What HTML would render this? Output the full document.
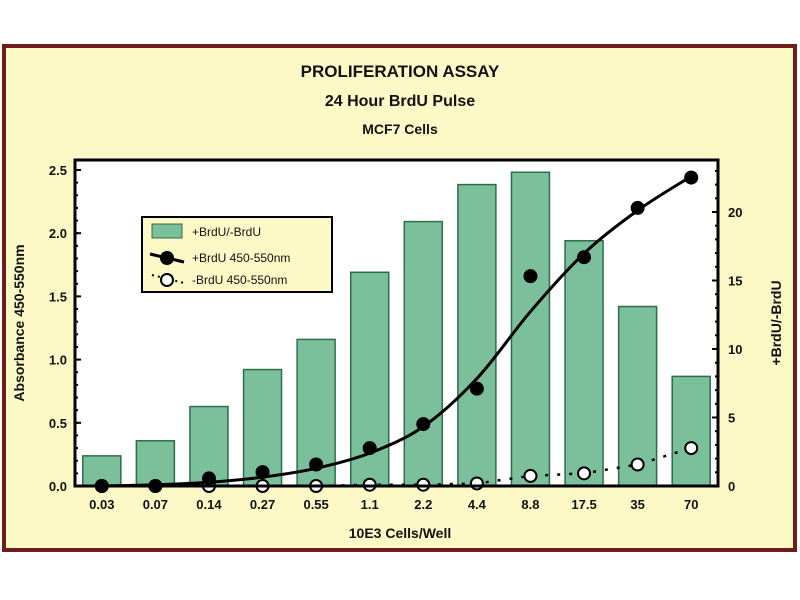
<!DOCTYPE html>
<html><head><meta charset="utf-8"><style>
html,body{margin:0;padding:0;background:#fff;}
svg{display:block;font-family:"Liberation Sans",Arial,sans-serif;font-weight:bold;}
</style></head><body>
<svg width="800" height="600" viewBox="0 0 800 600">
<rect x="4" y="46" width="791" height="504" fill="#fdf9c6" stroke="#6e1c1c" stroke-width="4"/>
<text x="400" y="77" text-anchor="middle" font-size="17" fill="#111">PROLIFERATION ASSAY</text>
<text x="400" y="106" text-anchor="middle" font-size="16" fill="#111">24 Hour BrdU Pulse</text>
<text x="400" y="134" text-anchor="middle" font-size="14" fill="#111">MCF7 Cells</text>
<rect x="75" y="160" width="643" height="326" fill="#fff"/>
<g id="bars"></g><g id="lines"></g><g id="axes"></g>
<rect x="75" y="160" width="643" height="326" fill="none" stroke="#000" stroke-width="3"/>
<text transform="translate(24,323) rotate(-90)" text-anchor="middle" font-size="14" fill="#111">Absorbance 450-550nm</text>
<text transform="translate(781,323) rotate(-90)" text-anchor="middle" font-size="14" fill="#111">+BrdU/-BrdU</text>
<text x="400" y="538" text-anchor="middle" font-size="14" fill="#111">10E3 Cells/Well</text>
<g>
<rect x="142" y="217" width="190" height="75" fill="#fdf9c6" stroke="#000" stroke-width="2"/>
<rect x="152" y="224" width="30" height="14" fill="#7cbf9b" stroke="#2d6e4a"/>
<text x="192" y="236" font-size="12" font-weight="normal" fill="#111">+BrdU/-BrdU</text>
<line x1="150" y1="254" x2="184" y2="262" stroke="#000" stroke-width="3"/>
<circle cx="167" cy="258" r="7" fill="#000"/>
<text x="192" y="262" font-size="12" font-weight="normal" fill="#111">+BrdU 450-550nm</text>
<line x1="152" y1="275" x2="184" y2="283" stroke="#000" stroke-width="2" stroke-dasharray="2 4"/>
<circle cx="167" cy="280" r="6" fill="#fff" stroke="#000" stroke-width="2"/>
<text x="192" y="284" font-size="12" font-weight="normal" fill="#111">-BrdU 450-550nm</text>
</g>
</svg>
<script>
const categories=["0.03","0.07","0.14","0.27","0.55","1.1","2.2","4.4","8.8","17.5","35","70"];
const ratioValues=[2.2,3.3,5.8,8.5,10.7,15.6,19.3,22,22.9,17.9,13.1,8.0];
const plusBrdU=[0.0,0.0,0.06,0.11,0.17,0.3,0.49,0.77,1.66,1.81,2.2,2.44];
const plusFit=[0.0,0.01,0.03,0.07,0.14,0.26,0.47,0.85,1.38,1.84,2.18,2.45];
const minusBrdU=[0.0,0.0,0.0,0.0,0.0,0.01,0.01,0.02,0.08,0.1,0.17,0.3];
const leftTicks=[0,0.5,1.0,1.5,2.0,2.5];
const rightTicks=[0,5,10,15,20];
const NS="http://www.w3.org/2000/svg";
const L=75,R=718,T=160,B=486,bw=(R-L)/categories.length;
const xc=i=>L+bw*(i+0.5);
const yl=v=>B-v*126.4;
const yr=v=>B-v*13.7;
function mk(tag,at,parent){const e=document.createElementNS(NS,tag);for(const k in at)e.setAttribute(k,at[k]);document.getElementById(parent).appendChild(e);return e;}
ratioValues.forEach((v,i)=>{
 const e=mk('rect',{x:xc(i)-19,y:yr(v),width:38,height:B-yr(v),fill:'#7cbf9b',stroke:'#2d6e4a','stroke-width':1.5},'bars');
 
 
});
let pts=plusFit.map((v,i)=>[xc(i),yl(v)]);
let d='M'+pts[0][0]+','+pts[0][1];
for(let i=0;i<pts.length-1;i++){const p0=pts[Math.max(0,i-1)],p1=pts[i],p2=pts[i+1],p3=pts[Math.min(pts.length-1,i+2)];
 d+=` C${p1[0]+(p2[0]-p0[0])/6},${p1[1]+(p2[1]-p0[1])/6} ${p2[0]-(p3[0]-p1[0])/6},${p2[1]-(p3[1]-p1[1])/6} ${p2[0]},${p2[1]}`;}
const fl=mk('path',{d:d,fill:'none',stroke:'#000','stroke-width':3},'lines');


const dl=mk('polyline',{points:minusBrdU.map((v,i)=>xc(i)+','+yl(v)).join(' '),fill:'none',stroke:'#000','stroke-width':2.5,'stroke-dasharray':'3 9'},'lines');


minusBrdU.forEach((v,i)=>{
 const c=mk('circle',{cx:xc(i),cy:yl(v),r:6,fill:'#fff',stroke:'#000','stroke-width':2},'lines');
 
 
});
plusBrdU.forEach((v,i)=>{
 const c=mk('circle',{cx:xc(i),cy:yl(v),r:7,fill:'#000'},'lines');
 
 
});
leftTicks.forEach(v=>{
 mk('line',{x1:L,x2:L+6,y1:yl(v),y2:yl(v),stroke:'#000','stroke-width':2},'axes');
 const t=mk('text',{x:L-8,y:yl(v)+5,'text-anchor':'end','font-size':13,fill:'#111'},'axes');t.textContent=v.toFixed(1);
 
 
});
for(let v=0;v<=2.5;v+=0.1){mk('line',{x1:L,x2:L+3,y1:yl(v),y2:yl(v),stroke:'#000','stroke-width':2},'axes');}
rightTicks.forEach(v=>{
 mk('line',{x1:R-6,x2:R,y1:yr(v),y2:yr(v),stroke:'#000','stroke-width':2},'axes');
 const t=mk('text',{x:R+10,y:yr(v)+5,'font-size':13,fill:'#111'},'axes');t.textContent=v;
 
 
});
for(let v=0;v<=23;v++){mk('line',{x1:R-3,x2:R,y1:yr(v),y2:yr(v),stroke:'#000','stroke-width':2},'axes');}
categories.forEach((c,i)=>{
 const t=mk('text',{x:xc(i),y:B+23,'text-anchor':'middle','font-size':13,fill:'#111'},'axes');t.textContent=c;
 
 
});
</script>
</body></html>
